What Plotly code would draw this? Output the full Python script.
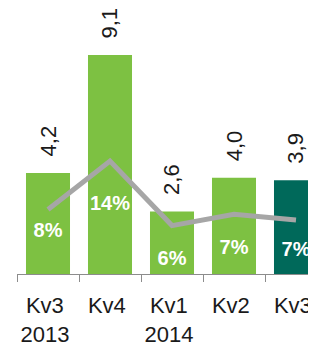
import plotly.graph_objects as go

# Data
categories = ["Kv3<br>2013", "Kv4", "Kv1<br>2014", "Kv2", "Kv3"]
values = [4.2, 9.1, 2.6, 4.0, 3.9]
value_labels = ["4,2", "9,1", "2,6", "4,0", "3,9"]
pct_values = [8.0, 14.0, 6.0, 7.4, 6.7]
pct_labels = ["8%", "14%", "6%", "7%", "7%"]

# Styling / placement (not data)
bar_colors = ["#7DC142", "#7DC142", "#7DC142", "#7DC142", "#00695A"]
pct_label_pos = [1.75, 2.85, 0.58, 1.05, 0.97]
LABEL_NUDGE = 0.05  # tick labels sit slightly left of bar centres
FONT = "Liberation Sans, Arial, sans-serif"

x_idx = list(range(len(categories)))

# page body has an 8px default margin; figure is sized to fill the rest
W, H = 308, 339
PLOT_H = 272

fig = go.Figure()
fig.add_trace(go.Bar(
    x=x_idx, y=values, marker=dict(color=bar_colors, line=dict(width=0)),
    hoverinfo="skip", showlegend=False,
))
fig.add_trace(go.Scatter(
    x=x_idx, y=pct_values, yaxis="y2", mode="lines",
    line=dict(color="#A6A6A6", width=5), showlegend=False, hoverinfo="skip",
))
fig.add_trace(go.Scatter(
    x=x_idx, y=pct_label_pos, mode="text", text=pct_labels,
    textfont=dict(family=FONT, size=20, color="white", weight="bold"),
    textposition="middle center", showlegend=False, hoverinfo="skip",
))

for xi, v, lab in zip(x_idx, values, value_labels):
    fig.add_annotation(
        x=xi, y=v, text=lab, textangle=-90, showarrow=False,
        xanchor="center", yanchor="bottom", yshift=14,
        font=dict(family=FONT, size=22, color="#1a1a1a"),
    )

fig.update_layout(
    width=W, height=H,
    margin=dict(l=9, r=0, t=0, b=H - PLOT_H),
    paper_bgcolor="white", plot_bgcolor="white",
    bargap=0.29,
    xaxis=dict(
        range=[-0.5, -0.5 + 299 / 62], tickmode="array",
        tickvals=[i - LABEL_NUDGE for i in x_idx], ticktext=categories,
        showline=True, linecolor="#8C8C8C", linewidth=1,
        ticks="", showgrid=False, zeroline=False,
        ticklabelstandoff=12,
        tickfont=dict(family=FONT, size=22, color="#1a1a1a"),
    ),
    yaxis=dict(range=[0, PLOT_H / 24.6], visible=False),
    yaxis2=dict(range=[0, PLOT_H / 8.25], overlaying="y", visible=False),
)

fig.update_xaxes(minor=dict(tickvals=[i - 0.5 for i in x_idx], ticks="outside",
                            ticklen=7, tickcolor="#8C8C8C", tickwidth=1))

fig.write_html("out.html")
